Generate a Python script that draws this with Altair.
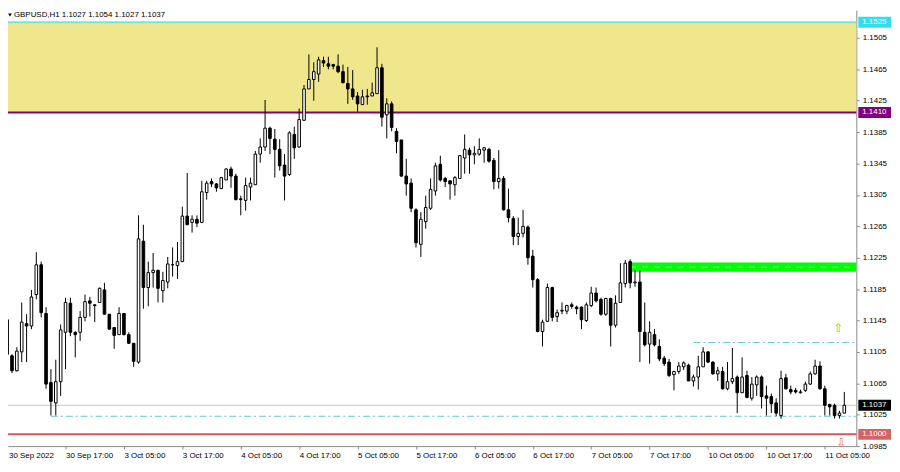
import json
import altair as alt
import pandas as pd

# ---------------- data (GBPUSD H1) ----------------
opens = [1.1146, 1.1100, 1.1081, 1.1105, 1.1141, 1.1138, 1.1178, 1.1216, 1.1154, 1.1066,
         1.1040, 1.1067, 1.1130, 1.1167, 1.1130, 1.1130, 1.1149, 1.1170, 1.1165, 1.1168,
         1.1184, 1.1153, 1.1136, 1.1127, 1.1154, 1.1127, 1.1116, 1.1092, 1.1246, 1.1187,
         1.1206, 1.1209, 1.1183, 1.1194, 1.1216, 1.1215, 1.1220, 1.1278, 1.1270, 1.1274,
         1.1270, 1.1308, 1.1322, 1.1319, 1.1313, 1.1324, 1.1338, 1.1329, 1.1300, 1.1298,
         1.1315, 1.1318, 1.1357, 1.1366, 1.1390, 1.1376, 1.1363, 1.1343, 1.1331, 1.1382,
         1.1366, 1.1400, 1.1440, 1.1452, 1.1459, 1.1476, 1.1472, 1.1471, 1.1469, 1.1462,
         1.1447, 1.1440, 1.1431, 1.1420, 1.1431, 1.1431, 1.1434, 1.1467, 1.1407, 1.1421,
         1.1386, 1.1375, 1.1329, 1.1320, 1.1286, 1.1242, 1.1271, 1.1288, 1.1310, 1.1344,
         1.1326, 1.1323, 1.1318, 1.1326, 1.1352, 1.1362, 1.1356, 1.1357, 1.1362, 1.1363,
         1.1349, 1.1322, 1.1326, 1.1286, 1.1275, 1.1252, 1.1256, 1.1264, 1.1227, 1.1197,
         1.1131, 1.1144, 1.1187, 1.1150, 1.1157, 1.1157, 1.1165, 1.1162, 1.1162, 1.1145,
         1.1164, 1.1180, 1.1172, 1.1153, 1.1173, 1.1139, 1.1168, 1.1192, 1.1220, 1.1193,
         1.1194, 1.1130, 1.1115, 1.1127, 1.1112, 1.1097, 1.1092, 1.1076, 1.1080, 1.1086,
         1.1088, 1.1068, 1.1073, 1.1086, 1.1105, 1.1092, 1.1077, 1.1080, 1.1058, 1.1067,
         1.1073, 1.1053, 1.1075, 1.1046, 1.1063, 1.1073, 1.1049, 1.1048, 1.1040, 1.1024,
         1.1072, 1.1057, 1.1056, 1.1053, 1.1056, 1.1064, 1.1077, 1.1087, 1.1058, 1.1038,
         1.1037, 1.1024, 1.1027]
highs = [1.1162, 1.1102, 1.1111, 1.1168, 1.1153, 1.1184, 1.1232, 1.1220, 1.1162, 1.1083,
         1.1095, 1.1140, 1.1174, 1.1174, 1.1131, 1.1157, 1.1178, 1.1175, 1.1165, 1.1187,
         1.1193, 1.1153, 1.1136, 1.1162, 1.1154, 1.1130, 1.1116, 1.1279, 1.1267, 1.1220,
         1.1231, 1.1209, 1.1207, 1.1226, 1.1238, 1.1245, 1.1290, 1.1333, 1.1279, 1.1279,
         1.1323, 1.1323, 1.1326, 1.1320, 1.1328, 1.1339, 1.1341, 1.1332, 1.1304, 1.1327,
         1.1327, 1.1361, 1.1377, 1.1426, 1.1392, 1.1389, 1.1376, 1.1357, 1.1386, 1.1392,
         1.1415, 1.1445, 1.1484, 1.1474, 1.1481, 1.1481, 1.1481, 1.1472, 1.1484, 1.1471,
         1.1468, 1.1464, 1.1436, 1.1439, 1.1440, 1.1448, 1.1493, 1.1472, 1.1428, 1.1424,
         1.1390, 1.1375, 1.1351, 1.1326, 1.1288, 1.1283, 1.1304, 1.1326, 1.1346, 1.1355,
         1.1328, 1.1323, 1.1329, 1.1356, 1.1382, 1.1365, 1.1367, 1.1377, 1.1366, 1.1365,
         1.1352, 1.1362, 1.1329, 1.1313, 1.1278, 1.1276, 1.1286, 1.1266, 1.1235, 1.1199,
         1.1146, 1.1192, 1.1188, 1.1159, 1.1168, 1.1165, 1.1168, 1.1164, 1.1163, 1.1168,
         1.1188, 1.1187, 1.1174, 1.1174, 1.1174, 1.1177, 1.1218, 1.1222, 1.1223, 1.1209,
         1.1209, 1.1168, 1.1144, 1.1134, 1.1121, 1.1100, 1.1096, 1.1081, 1.1092, 1.1093,
         1.1090, 1.1076, 1.1100, 1.1111, 1.1106, 1.1093, 1.1086, 1.1086, 1.1092, 1.1110,
         1.1075, 1.1098, 1.1081, 1.1073, 1.1075, 1.1075, 1.1062, 1.1052, 1.1046, 1.1081,
         1.1077, 1.1062, 1.1059, 1.1057, 1.1067, 1.1080, 1.1095, 1.1093, 1.1062, 1.1039,
         1.1039, 1.1030, 1.1054]
lows = [1.1071, 1.1078, 1.1080, 1.1092, 1.1092, 1.1134, 1.1172, 1.1149, 1.1058, 1.1024,
        1.1024, 1.1049, 1.1083, 1.1125, 1.1098, 1.1119, 1.1144, 1.1150, 1.1143, 1.1168,
        1.1153, 1.1133, 1.1109, 1.1127, 1.1126, 1.1115, 1.1086, 1.1090, 1.1160, 1.1163,
        1.1187, 1.1168, 1.1168, 1.1186, 1.1201, 1.1198, 1.1220, 1.1267, 1.1257, 1.1264,
        1.1269, 1.1299, 1.1315, 1.1309, 1.1313, 1.1324, 1.1314, 1.1298, 1.1279, 1.1285,
        1.1298, 1.1318, 1.1346, 1.1361, 1.1357, 1.1327, 1.1336, 1.1298, 1.1329, 1.1351,
        1.1365, 1.1400, 1.1440, 1.1425, 1.1449, 1.1468, 1.1465, 1.1465, 1.1460, 1.1447,
        1.1421, 1.1426, 1.1411, 1.1420, 1.1420, 1.1431, 1.1434, 1.1392, 1.1377, 1.1386,
        1.1358, 1.1328, 1.1304, 1.1283, 1.1238, 1.1226, 1.1262, 1.1286, 1.1304, 1.1322,
        1.1315, 1.1299, 1.1304, 1.1326, 1.1332, 1.1332, 1.1344, 1.1355, 1.1346, 1.1346,
        1.1312, 1.1313, 1.1285, 1.1270, 1.1241, 1.1241, 1.1251, 1.1216, 1.1187, 1.1130,
        1.1112, 1.1143, 1.1144, 1.1143, 1.1153, 1.1153, 1.1160, 1.1153, 1.1134, 1.1143,
        1.1162, 1.1168, 1.1151, 1.1151, 1.1112, 1.1136, 1.1168, 1.1187, 1.1186, 1.1188,
        1.1092, 1.1112, 1.1090, 1.1112, 1.1093, 1.1087, 1.1073, 1.1056, 1.1077, 1.1082,
        1.1068, 1.1061, 1.1057, 1.1086, 1.1091, 1.1076, 1.1068, 1.1057, 1.1056, 1.1064,
        1.1027, 1.1053, 1.1046, 1.1043, 1.1049, 1.1033, 1.1024, 1.1027, 1.1023, 1.1020,
        1.1057, 1.1051, 1.1052, 1.1052, 1.1054, 1.1063, 1.1076, 1.1057, 1.1024, 1.1024,
        1.1020, 1.1020, 1.1027]
closes = [1.1102, 1.1081, 1.1106, 1.1143, 1.1138, 1.1175, 1.1216, 1.1155, 1.1064, 1.1042,
          1.1067, 1.1133, 1.1168, 1.1130, 1.1127, 1.1149, 1.1169, 1.1167, 1.1164, 1.1186,
          1.1153, 1.1134, 1.1126, 1.1154, 1.1127, 1.1116, 1.1093, 1.1249, 1.1187, 1.1206,
          1.1209, 1.1186, 1.1196, 1.1217, 1.1216, 1.1220, 1.1278, 1.1267, 1.1274, 1.1269,
          1.1309, 1.1320, 1.1319, 1.1314, 1.1327, 1.1338, 1.1329, 1.1299, 1.1299, 1.1317,
          1.1320, 1.1357, 1.1366, 1.1390, 1.1377, 1.1363, 1.1342, 1.1329, 1.1384, 1.1365,
          1.1401, 1.1440, 1.1452, 1.1462, 1.1477, 1.1473, 1.1469, 1.1469, 1.1462, 1.1448,
          1.1440, 1.1430, 1.1421, 1.1430, 1.1430, 1.1435, 1.1467, 1.1404, 1.1421, 1.1391,
          1.1373, 1.1329, 1.1319, 1.1288, 1.1244, 1.1274, 1.1289, 1.1312, 1.1342, 1.1324,
          1.1322, 1.1319, 1.1327, 1.1355, 1.1363, 1.1356, 1.1358, 1.1363, 1.1365, 1.1348,
          1.1322, 1.1326, 1.1286, 1.1276, 1.1252, 1.1256, 1.1265, 1.1225, 1.1197, 1.1131,
          1.1143, 1.1187, 1.1149, 1.1155, 1.1158, 1.1164, 1.1163, 1.1160, 1.1146, 1.1165,
          1.1180, 1.1170, 1.1153, 1.1173, 1.1139, 1.1167, 1.1193, 1.1218, 1.1193, 1.1194,
          1.1131, 1.1114, 1.1130, 1.1114, 1.1096, 1.1090, 1.1075, 1.1080, 1.1087, 1.1091,
          1.1068, 1.1073, 1.1086, 1.1105, 1.1092, 1.1077, 1.1081, 1.1058, 1.1067, 1.1071,
          1.1053, 1.1073, 1.1047, 1.1064, 1.1073, 1.1048, 1.1046, 1.1039, 1.1027, 1.1071,
          1.1058, 1.1054, 1.1054, 1.1054, 1.1064, 1.1077, 1.1087, 1.1058, 1.1037, 1.1035,
          1.1024, 1.1027, 1.1037]

time_labels = ["30 Sep 2022", "30 Sep 17:00", "3 Oct 05:00", "3 Oct 17:00", "4 Oct 05:00",
               "4 Oct 17:00", "5 Oct 05:00", "5 Oct 17:00", "6 Oct 05:00", "6 Oct 17:00",
               "7 Oct 05:00", "7 Oct 17:00", "10 Oct 05:00", "10 Oct 17:00", "11 Oct 05:00"]
bars_per_label = 12
price_ticks = [1.1545, 1.1505, 1.1465, 1.1425, 1.1385, 1.1345, 1.1305, 1.1265, 1.1225,
               1.1185, 1.1145, 1.1105, 1.1065, 1.1025, 1.0985]

zone_top, zone_bottom = 1.1525, 1.1410
green_top, green_bottom, green_start = 1.1219, 1.1207, 128
bid_level = 1.1037
support_level = 1.1000
dashdot_levels = [1.1117, 1.1023]
dashdot_starts = [141, 9]
box_levels = [1.1525, 1.1410, 1.1037, 1.1000]
box_names = ["top", "zone", "bid", "support"]
arrow_bars = [170.8, 171.4]
arrow_prices = [1.1135, 1.0989]
arrow_glyphs = ["⇧", "⇩"]
header = "GBPUSD,H1  1.1027 1.1054 1.1027 1.1037"

# ---------------- layout ----------------
W, H = 856, 440
XMIN, XMAX = 1.2, 173.45
YMIN, YMAX = 1.0985, 1.15405
FONT = "Liberation Sans"
FS = 8
AXC = "#8a8a8a"

xs = alt.Scale(domain=[XMIN, XMAX], nice=False, zero=False)
ys = alt.Scale(domain=[YMIN, YMAX], nice=False, zero=False)
label_expr = json.dumps(time_labels) + f"[round(datum.value/{bars_per_label})]"
AX = alt.Axis(orient="bottom", values=list(range(bars_per_label, 169, bars_per_label)),
              labelExpr=label_expr, title=None, grid=False, labelAlign="left",
              labelBaseline="top", labelFlush=False, labelPadding=3, tickSize=3,
              tickColor=AXC, domainColor=AXC, labelFont=FONT, labelFontSize=FS,
              labelColor="#000000", labelOverlap=False)
AY = alt.Axis(orient="right", values=price_ticks, format=".4f", title=None, grid=False,
              labelFlush=False, labelPadding=3, tickSize=3, tickColor=AXC,
              domainColor=AXC, labelFont=FONT, labelFontSize=FS, labelColor="#000000",
              labelOverlap=False)


def X(f):
    return alt.X(f"{f}:Q", scale=xs, axis=AX)


def Y(f):
    return alt.Y(f"{f}:Q", scale=ys, axis=AY)


candles = pd.DataFrame({"i": list(range(len(opens))), "o": opens, "h": highs,
                        "l": lows, "c": closes})

zone = alt.Chart(pd.DataFrame({"t": [zone_top], "b": [zone_bottom]})).mark_rect(
    color="#F0E68C").encode(y=Y("t"), y2=alt.Y2("b"), x=alt.value(0), x2=alt.value(W))

green = alt.Chart(pd.DataFrame({"s": [green_start], "t": [green_top], "b": [green_bottom]})).mark_rect(
    color="#00FF00").encode(x=X("s"), x2=alt.value(W), y=Y("t"), y2=alt.Y2("b"))
green_mid = alt.Chart(pd.DataFrame({"s": [green_start], "p": [(green_top + green_bottom) / 2]})).mark_rule(
    color="#9CFF9C", strokeWidth=1, strokeDash=[6, 6]).encode(x=X("s"), x2=alt.value(W), y=Y("p"))


def hline(level, color, width):
    return alt.Chart(pd.DataFrame({"p": [level]})).mark_rule(
        color=color, strokeWidth=width).encode(y=Y("p"), x=alt.value(0), x2=alt.value(W))


line_top = hline(zone_top, "#78E6CF", 2)
line_zone = hline(zone_bottom, "#800080", 2)
line_bid = hline(bid_level, "#C8C8C8", 1)
line_support = hline(support_level, "#CD5C5C", 2)

dashdot = alt.Chart(pd.DataFrame({"s": dashdot_starts, "p": dashdot_levels})).mark_rule(
    color="#63C6D8", strokeWidth=1, strokeDash=[7, 3, 2, 3]).encode(
    x=X("s"), x2=alt.value(W), y=Y("p"))

wicks = alt.Chart(candles).mark_rule(color="#000000", strokeWidth=1).encode(
    x=X("i"), y=Y("l"), y2=alt.Y2("h"))
bodies = alt.Chart(candles).mark_bar(size=2.6, stroke="#000000", strokeWidth=1,
                                     orient="vertical").encode(
    x=X("i"), y=Y("o"), y2=alt.Y2("c"),
    fill=alt.condition("datum.c >= datum.o", alt.value("#FFFFFF"), alt.value("#000000")))

arrows = alt.Chart(pd.DataFrame({"i": arrow_bars, "p": arrow_prices, "g": arrow_glyphs})).mark_text(
    font="DejaVu Sans", fontSize=12, baseline="middle", align="center").encode(
    x=X("i"), y=Y("p"), text="g:N",
    color=alt.Color("g:N", scale=alt.Scale(domain=arrow_glyphs, range=["#6CD64C", "#F0703A"]),
                    legend=None))

title_tri = alt.Chart(pd.DataFrame({"t": [header]})).mark_point(
    shape="triangle-down", filled=True, size=14, color="#000000", opacity=1).encode(
    x=alt.value(2), y=alt.value(5))
title_txt = alt.Chart(pd.DataFrame({"t": [header]})).mark_text(
    font=FONT, fontSize=FS, align="left", baseline="top", color="#000000").encode(
    x=alt.value(6), y=alt.value(1), text="t:N")

box_df = pd.DataFrame({"p": box_levels, "n": box_names})
box_colors = alt.Scale(domain=box_names, range=["#33DDEE", "#800080", "#000000", "#D36464"])
boxes = alt.Chart(box_df).transform_calculate(
    t="datum.p + 0.00069", b="datum.p - 0.00069").mark_rect().encode(
    y=Y("t"), y2=alt.Y2("b"), x=alt.value(W + 2), x2=alt.value(W + 35),
    fill=alt.Fill("n:N", scale=box_colors, legend=None))
box_txt = alt.Chart(box_df).mark_text(
    font=FONT, fontSize=FS, align="left", baseline="middle", color="#FFFFFF").encode(
    y=Y("p"), x=alt.value(W + 6), text=alt.Text("p:Q", format=".4f"))

first_label = alt.Chart(pd.DataFrame({"t": [time_labels[0]]})).mark_text(
    font=FONT, fontSize=FS, align="left", baseline="top", color="#000000").encode(
    x=alt.value(1), y=alt.value(H + 6), text="t:N")

chart = alt.layer(
    zone, green, green_mid, line_top, line_zone, line_bid, line_support, dashdot,
    wicks, bodies, arrows, title_tri, title_txt, boxes, box_txt, first_label
).properties(
    width=W, height=H,
    padding={"left": 0, "top": 0, "right": 36, "bottom": 16},
    autosize=alt.AutoSizeParams(type="none"),
    background="#FFFFFF",
).configure_view(stroke=None)

chart.save("out.html", embed_options={"renderer": "svg", "actions": False})
